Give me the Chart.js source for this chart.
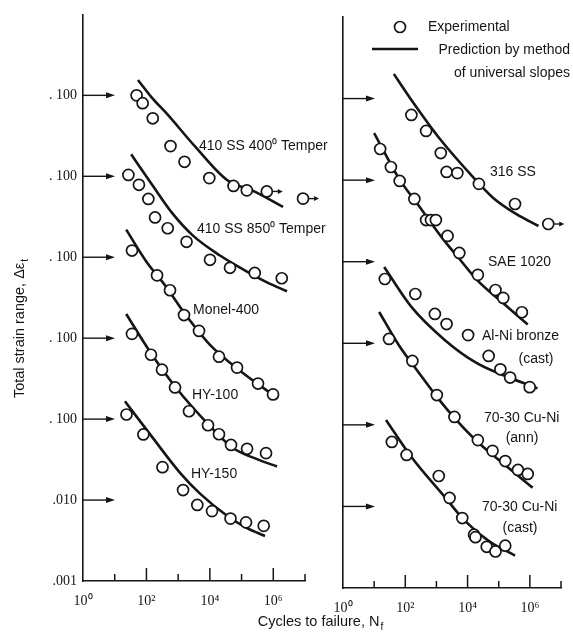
<!DOCTYPE html>
<html>
<head>
<meta charset="utf-8">
<script src="https://cdn.jsdelivr.net/npm/chart.js@4.4.1/dist/chart.umd.min.js"></script>
<style>
  html, body { margin: 0; padding: 0; background: #fff; }
  #wrap { position: relative; width: 573px; height: 641px; }
  #wrap canvas { position: absolute; left: 0; top: 0; }
</style>
</head>
<body>
<div id="wrap">
  <canvas id="left-panel" width="573" height="641"></canvas>
  <canvas id="right-panel" width="573" height="641"></canvas>
</div>
<script>
// axis ticks
const xTickValues = [1, 10, 100, 1e3, 1e4, 1e5, 1e6, 1e7];
const xTickLabels = ["10⁰", "", "10²", "", "10⁴", "", "10⁶", ""];
const yTickValues = [1e-3, 1e-2, 1e-1, 1, 10, 100, 1000];
const yTickLabels = [".001", ".010", ". 100", ". 100", ". 100", ". 100", ". 100"];
const arrowValues = [1e-2, 1e-1, 1, 10, 100, 1000];

// [cycles to failure, total strain range]
// left panel
const ss400Test = [[49, 0.100], [76, 0.080], [158, 0.052], [574, 0.0236], [1590, 0.0151], [9610, 0.0095], [55700, 0.0076], [146500, 0.0067]];
const ss400Runout = [[625000, 0.0065], [8.67e6, 0.0053]];
const ss400Fit = [[54, 0.155], [150, 0.093], [446, 0.059], [3400, 0.0234], [34800, 0.0090], [230000, 0.0066], [2.03e6, 0.0042]];

const ss850Test = [[27, 0.104], [58, 0.0785], [115, 0.0525], [187, 0.031], [469, 0.0228], [1840, 0.0155], [10100, 0.0093], [43200, 0.0074], [260000, 0.0064], [1.85e6, 0.0055]];
const ss850Fit = [[33, 0.187], [161, 0.0757], [641, 0.0353], [2940, 0.0185], [20900, 0.0105], [111000, 0.0071], [635000, 0.0049], [2.71e6, 0.0038]];

const monelTest = [[35, 0.121], [216, 0.0597], [554, 0.0391], [1530, 0.0193], [4550, 0.0123], [19400, 0.0059], [71900, 0.00433], [330000, 0.00275], [982000, 0.00202]];
const monelFit = [[23, 0.219], [104, 0.0861], [385, 0.045], [1650, 0.0199], [10100, 0.00828], [89300, 0.00397], [1.41e6, 0.0018]];

const hy100Test = [[35, 0.113], [139, 0.0624], [310, 0.0408], [797, 0.0246], [2200, 0.0125], [8750, 0.0084], [19400, 0.0065], [46500, 0.0048], [149000, 0.0043], [590000, 0.0038]];
const hy100Fit = [[23, 0.199], [130, 0.0679], [797, 0.0253], [10100, 0.0082], [53700, 0.0044], [307000, 0.0032], [1.31e6, 0.0026]];

const hy150Test = [[23.5, 0.114], [80, 0.0647], [321, 0.0255], [1430, 0.0133], [4020, 0.0087], [11700, 0.0073], [44800, 0.0059], [138000, 0.0053], [499000, 0.0048]];
const hy150Fit = [[21, 0.166], [161, 0.0582], [1150, 0.0217], [4900, 0.012], [34800, 0.0064], [149000, 0.0045], [549000, 0.0036]];

// right panel
const ss316Test = [[157, 0.063], [466, 0.0401], [1380, 0.0215], [2120, 0.0126], [4700, 0.0122], [23100, 0.009], [334000, 0.0051]];
const ss316Runout = [[3.9e6, 0.0029]];
const ss316Fit = [[43, 0.2], [157, 0.0962], [1380, 0.031], [15000, 0.0109], [68200, 0.006], [360000, 0.00385], [1.89e6, 0.00274]];

const sae1020Test = [[15.6, 0.241], [34.5, 0.145], [66, 0.0977], [196, 0.0588], [466, 0.0324], [668, 0.0324], [959, 0.0324], [2280, 0.0207], [5430, 0.0128], [21400, 0.0069], [78800, 0.0045], [140000, 0.0036], [554000, 0.0024]];
const sae1020Fit = [[10, 0.378], [61.5, 0.106], [261, 0.0495], [1710, 0.0185], [5840, 0.0105], [19900, 0.006], [140000, 0.0031], [855000, 0.0017]];

const alNiTest = [[22, 0.0614], [210, 0.0402], [892, 0.0229], [2120, 0.0172], [10400, 0.0126], [47500, 0.007], [113000, 0.0048], [233000, 0.0038], [989000, 0.0029]];
const alNiFit = [[21, 0.0861], [157, 0.0279], [1840, 0.011], [19900, 0.0057], [217000, 0.0038], [1.76e6, 0.0028]];

const cuNiAnnTest = [[30, 0.113], [169, 0.0607], [1030, 0.0232], [3790, 0.0125], [21400, 0.0065], [63400, 0.0048], [162000, 0.0036], [415000, 0.0028], [855000, 0.0025]];
const cuNiAnnFit = [[14.5, 0.242], [61.5, 0.0953], [261, 0.0445], [1110, 0.0213], [4700, 0.0111], [19900, 0.0063], [122000, 0.0035], [1.23e6, 0.0017]];

const cuNiCastTest = [[37, 0.0617], [110, 0.0428], [1190, 0.0236], [2640, 0.0127], [6750, 0.0072], [16100, 0.0045], [17900, 0.0042], [41100, 0.0032], [78800, 0.0028], [162000, 0.0033]];
const cuNiCastFit = [[24, 0.115], [157, 0.0404], [1840, 0.0131], [7800, 0.0068], [51100, 0.0037], [334000, 0.0025]];

// each curve is moved up by whole decades so they stack
const leftGroups = [
  { test: ss400Test, runout: ss400Runout, fit: ss400Fit, shift: 4 },
  { test: ss850Test, runout: [], fit: ss850Fit, shift: 3 },
  { test: monelTest, runout: [], fit: monelFit, shift: 2 },
  { test: hy100Test, runout: [], fit: hy100Fit, shift: 1 },
  { test: hy150Test, runout: [], fit: hy150Fit, shift: 0 },
];
const rightGroups = [
  { test: ss316Test, runout: ss316Runout, fit: ss316Fit, shift: 4 },
  { test: sae1020Test, runout: [], fit: sae1020Fit, shift: 3 },
  { test: alNiTest, runout: [], fit: alNiFit, shift: 2 },
  { test: cuNiAnnTest, runout: [], fit: cuNiAnnFit, shift: 1 },
  { test: cuNiCastTest, runout: [], fit: cuNiCastFit, shift: 0 },
];

const SANS = "'Liberation Sans', Arial, sans-serif";
const SERIF = "'Liberation Serif', 'Times New Roman', serif";
const INK = "#151515";

const leftNotes = [
  { text: "410 SS 400⁰ Temper", x: 199, y: 146 },
  { text: "410 SS 850⁰ Temper", x: 197, y: 229 },
  { text: "Monel-400", x: 193, y: 310 },
  { text: "HY-100", x: 192, y: 395 },
  { text: "HY-150", x: 191, y: 474 },
];
const rightNotes = [
  { text: "316 SS", x: 490, y: 172 },
  { text: "SAE 1020", x: 488, y: 262 },
  { text: "Al-Ni bronze", x: 482, y: 336 },
  { text: "(cast)", x: 536, y: 359, align: "center" },
  { text: "70-30 Cu-Ni", x: 484, y: 418 },
  { text: "(ann)", x: 522, y: 438, align: "center" },
  { text: "70-30 Cu-Ni", x: 482, y: 507 },
  { text: "(cast)", x: 520, y: 528, align: "center" },
];

function toPoints(list, shift) {
  return list.map(([n, s]) => ({ x: n, y: s * Math.pow(10, shift) }));
}

function arrowTo(ctx, x0, y, x1, head, half) {
  ctx.beginPath();
  ctx.moveTo(x0, y);
  ctx.lineTo(x1 - head + 1, y);
  ctx.stroke();
  ctx.beginPath();
  ctx.moveTo(x1, y);
  ctx.lineTo(x1 - head, y - half);
  ctx.lineTo(x1 - head, y + half);
  ctx.closePath();
  ctx.fill();
}

// text with a subscript at the end
function subText(ctx, main, sub, x, y, size, align) {
  ctx.font = size + "px " + SANS;
  const w1 = ctx.measureText(main).width;
  ctx.font = (size * 0.7) + "px " + SANS;
  const w2 = ctx.measureText(sub).width;
  let start = x;
  if (align === "center") start = x - (w1 + w2) / 2;
  ctx.textAlign = "left";
  ctx.textBaseline = "middle";
  ctx.font = size + "px " + SANS;
  ctx.fillText(main, start, y);
  ctx.font = (size * 0.7) + "px " + SANS;
  ctx.fillText(sub, start + w1 + 1, y + size * 0.35);
}

const decor = {
  id: "decor",
  afterDraw(chart, args, opts) {
    const ctx = chart.ctx;
    const xs = chart.scales.x;
    const ys = chart.scales.y;
    const area = chart.chartArea;
    ctx.save();
    ctx.strokeStyle = INK;
    ctx.fillStyle = INK;

    // decade ticks pointing up into the plot
    ctx.lineWidth = 1.5;
    xTickValues.forEach((v, i) => {
      if (i === 0) return;
      const px = xs.getPixelForValue(v);
      const len = i % 2 === 0 ? 13 : 7;
      ctx.beginPath();
      ctx.moveTo(px, area.bottom);
      ctx.lineTo(px, area.bottom - len);
      ctx.stroke();
    });

    // arrows from the axis marking each curve's reference level
    ctx.lineWidth = 1.4;
    arrowValues.forEach((v) => {
      const py = ys.getPixelForValue(v);
      arrowTo(ctx, area.left, py, area.left + 32, 9, 3);
    });

    // run-out arrows
    chart.data.datasets.forEach((ds, i) => {
      if (!ds.runout) return;
      chart.getDatasetMeta(i).data.forEach((pt) => {
        arrowTo(ctx, pt.x + 6, pt.y, pt.x + 16, 5, 2.5);
      });
    });

    // curve names
    ctx.font = "14px " + SANS;
    ctx.textBaseline = "middle";
    (opts.notes || []).forEach((n) => {
      ctx.textAlign = n.align || "left";
      ctx.fillText(n.text, n.x, n.y);
    });

    if (opts.yTitle) {
      ctx.save();
      ctx.translate(20, 329);
      ctx.rotate(-Math.PI / 2);
      subText(ctx, "Total strain range, Δε", "t", 0, 0, 14.5, "center");
      ctx.restore();
    }
    if (opts.xTitle) {
      subText(ctx, "Cycles to failure, N", "f", 320, 622, 14.5, "center");
    }
    if (opts.legend) {
      ctx.lineWidth = 1.7;
      ctx.fillStyle = "#fff";
      ctx.beginPath();
      ctx.arc(400, 27, 5.5, 0, Math.PI * 2);
      ctx.fill();
      ctx.stroke();
      ctx.fillStyle = INK;
      ctx.lineWidth = 2.6;
      ctx.beginPath();
      ctx.moveTo(372, 49);
      ctx.lineTo(418, 49);
      ctx.stroke();
      ctx.font = "14px " + SANS;
      ctx.textBaseline = "middle";
      ctx.textAlign = "left";
      ctx.fillText("Experimental", 428, 27);
      ctx.textAlign = "right";
      ctx.fillText("Prediction by method", 570, 50);
      ctx.fillText("of universal slopes", 570, 73);
    }
    ctx.restore();
  },
};

function makePanel(id, groups, box, decorOpts) {
  const datasets = [];
  groups.forEach((g) => {
    datasets.push({
      data: toPoints(g.fit, g.shift),
      showLine: true,
      pointRadius: 0,
      borderColor: INK,
      borderWidth: 2.6,
      cubicInterpolationMode: "monotone",
      clip: false,
      order: 2,
    });
    [g.test, g.runout].forEach((list, k) => {
      if (!list.length) return;
      datasets.push({
        data: toPoints(list, g.shift),
        showLine: false,
        pointRadius: 5.5,
        pointBorderWidth: 1.7,
        pointBackgroundColor: "#fff",
        pointBorderColor: INK,
        runout: k === 1,
        clip: false,
        order: 1,
      });
    });
  });

  return new Chart(document.getElementById(id), {
    type: "scatter",
    data: { datasets: datasets },
    options: {
      responsive: false,
      animation: false,
      events: [],
      layout: {
        autoPadding: false,
        padding: { left: box.padLeft, right: box.padRight, top: box.top, bottom: 0 },
      },
      plugins: {
        legend: { display: false },
        tooltip: { enabled: false },
        decor: decorOpts,
      },
      scales: {
        x: {
          type: "logarithmic",
          min: 1,
          max: 1e7,
          afterBuildTicks: (s) => {
            s.ticks = xTickValues.map((v) => ({ value: v }));
          },
          afterFit: (s) => {
            s.height = box.xHeight;
          },
          ticks: {
            autoSkip: false,
            maxRotation: 0,
            padding: 12,
            color: INK,
            font: { family: SERIF, size: 14 },
            callback: (v) => xTickLabels[Math.round(Math.log10(v))],
          },
          grid: { display: true, drawOnChartArea: false, drawTicks: false },
          border: { display: true, color: INK, width: 1.6 },
        },
        y: {
          type: "logarithmic",
          min: 1e-3,
          max: 1e4,
          afterBuildTicks: (s) => {
            s.ticks = yTickValues.map((v) => ({ value: v }));
          },
          afterFit: (s) => {
            s.width = box.yWidth;
          },
          ticks: {
            display: box.yLabels,
            autoSkip: false,
            padding: 6,
            color: INK,
            font: { family: SERIF, size: 14 },
            callback: (v) => yTickLabels[Math.round(Math.log10(v)) + 3],
          },
          grid: { display: true, drawOnChartArea: false, drawTicks: false },
          border: { display: true, color: INK, width: 1.6 },
        },
      },
    },
    plugins: [decor],
  });
}

makePanel(
  "left-panel",
  leftGroups,
  { padLeft: 0, padRight: 268, top: 10, xHeight: 60, yWidth: 83, yLabels: true },
  { notes: leftNotes, yTitle: true, xTitle: true }
);
makePanel(
  "right-panel",
  rightGroups,
  { padLeft: 343, padRight: 7, top: 17, xHeight: 53, yWidth: 0, yLabels: false },
  { notes: rightNotes, legend: true }
);
</script>
</body>
</html>
